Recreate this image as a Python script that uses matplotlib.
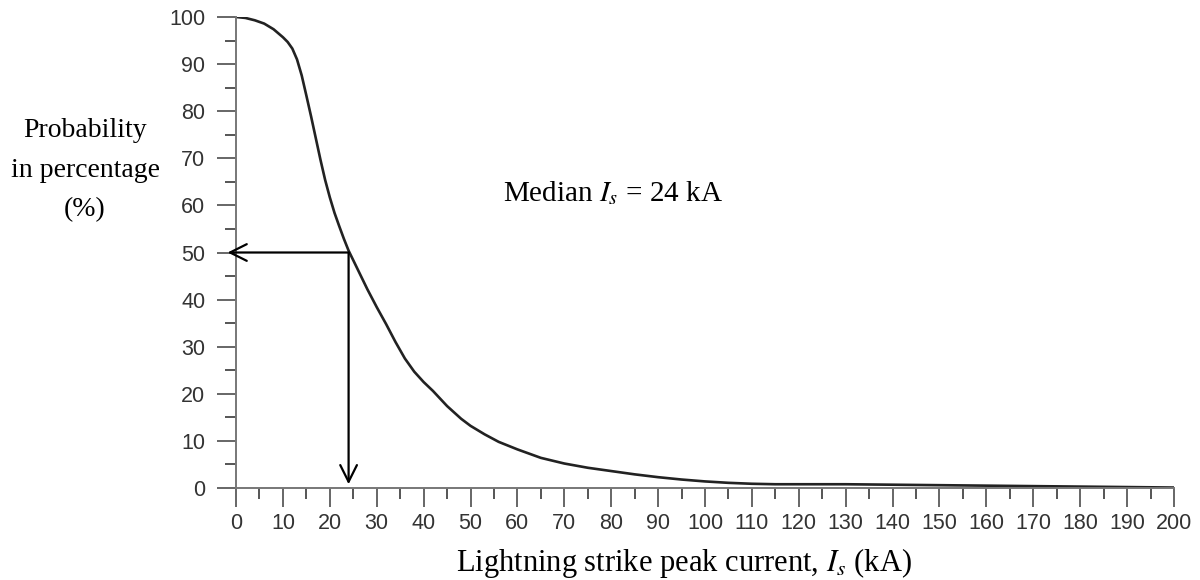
import matplotlib.pyplot as plt
import numpy as np

# Values
current_ka = np.array([0, 2, 4, 6, 8, 10, 11, 12, 13, 14, 15, 16, 17, 18, 19, 20, 21, 22,
                       23, 24, 26, 28, 30, 32, 34, 36, 38, 40, 42, 45, 48, 50, 53, 56,
                       60, 65, 70, 75, 80, 85, 90, 95, 100, 105, 110, 115, 120, 130, 140,
                       150, 160, 170, 180, 190, 200])
probability = np.array([100, 99.8, 99.3, 98.6, 97.4, 95.7, 94.7, 93.3, 91.0, 87.6, 83.3,
                        78.9, 74.3, 69.7, 65.4, 61.7, 58.4, 55.6, 52.9, 50.4, 46.3, 42.2,
                        38.4, 34.8, 31.0, 27.5, 24.7, 22.5, 20.6, 17.4, 14.7, 13.2, 11.4,
                        9.8, 8.2, 6.4, 5.2, 4.3, 3.6, 2.9, 2.3, 1.8, 1.4, 1.1, 0.9, 0.8,
                        0.8, 0.8, 0.7, 0.6, 0.5, 0.4, 0.3, 0.2, 0.1])
median_ka = 24
median_pct = 50

plt.rcParams["mathtext.fontset"] = "stix"

fig = plt.figure(figsize=(12, 5.8), dpi=100)
ax = fig.add_axes([0.1967, 0.1586, 0.7816, 0.8121])

ax.plot(current_ka, probability, color="#222222", linewidth=1.9,
        solid_joinstyle="round")

arrow = dict(arrowstyle="->,head_length=1.2,head_width=0.6", color="black",
             lw=1.6, shrinkA=0, shrinkB=0)
ax.annotate("", xy=(-1.8, median_pct), xytext=(median_ka, median_pct),
            arrowprops=arrow, annotation_clip=False)
ax.annotate("", xy=(median_ka, 0.8), xytext=(median_ka, median_pct),
            arrowprops=arrow, annotation_clip=False)

ax.text(56.9, 62.6, r"Median $I_s$ = 24 kA", fontsize=21, family="Liberation Serif",
        ha="left", va="center")

ax.set_xlim(0, 200)
ax.set_ylim(0, 100)
ax.set_xticks(np.arange(0, 201, 10))
ax.set_xticks(np.arange(5, 200, 10), minor=True)
ax.set_yticks(np.arange(0, 101, 10))
ax.set_yticks(np.arange(5, 100, 10), minor=True)

for side in ["top", "right"]:
    ax.spines[side].set_visible(False)
for side in ["left", "bottom"]:
    ax.spines[side].set_color("#777777")
    ax.spines[side].set_linewidth(1.4)

ax.tick_params(axis="both", which="major", length=14, width=1.4, color="#666666",
               labelsize=15.5, labelcolor="#333333")
ax.tick_params(axis="both", which="minor", length=8, width=1.4, color="#555555")
ax.tick_params(axis="x", which="major", pad=4)
ax.tick_params(axis="y", which="major", pad=8)
for lbl in ax.get_xticklabels() + ax.get_yticklabels():
    lbl.set_family("Liberation Sans")

ax.set_xlabel(r"Lightning strike peak current, $I_s$ (kA)", fontsize=22,
              family="Liberation Serif", va="center")
ax.xaxis.set_label_coords(0.4771, -0.159)
ax.set_ylabel("Probability\nin percentage\n(%)", fontsize=20, family="Liberation Serif",
              rotation=0, ha="center", va="center", linespacing=1.75)
ax.yaxis.set_label_coords(-0.161, 0.675)

fig.savefig("out.png", dpi=100)
